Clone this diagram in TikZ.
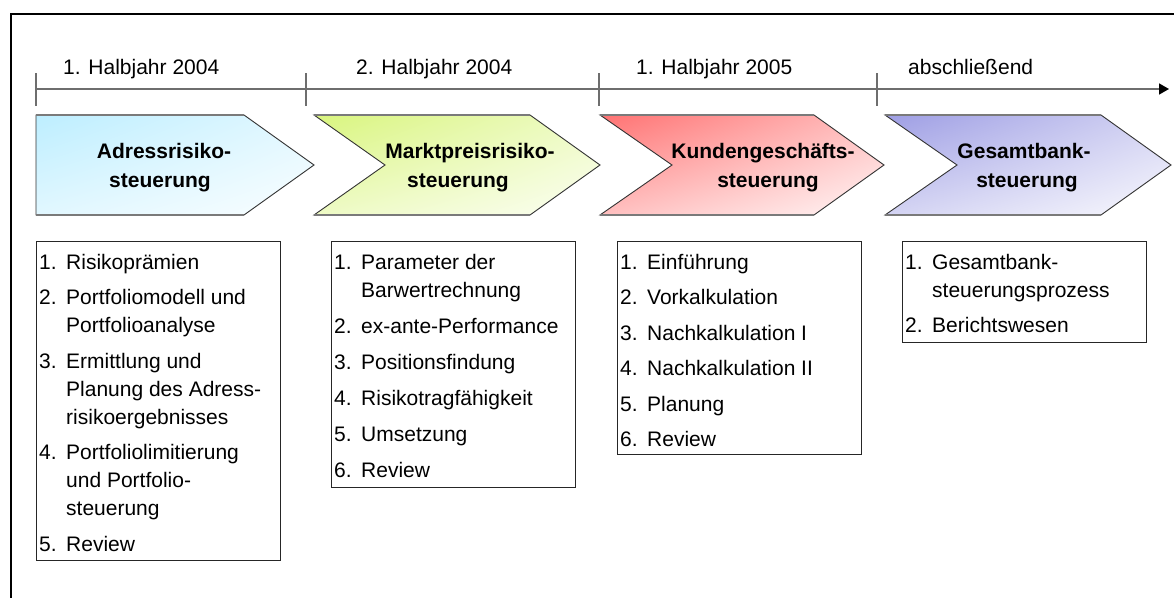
\documentclass[tikz,border=0pt]{standalone}
\usepackage{fontspec}
\setmainfont{Liberation Sans}
\usetikzlibrary{arrows.meta,shadings}
\newcommand\bigf{\fontsize{21}{25}\selectfont}
\definecolor{cyanA}{HTML}{BDEEFF}
\definecolor{greenA}{HTML}{D9F57E}
\definecolor{redA}{HTML}{FF7272}
\definecolor{blueA}{HTML}{9E9EE4}
\definecolor{axisgray}{HTML}{6E6E6E}
\definecolor{edgegray}{HTML}{7A7A7A}
\tikzset{
  frameline/.style={line width=2.2pt, black},
  axisline/.style={line width=1.6pt, axisgray},
  tickline/.style={line width=1.2pt, axisgray},
  period/.style={anchor=base west, inner sep=0pt, font=\bigf},
  chev/.style={draw=black!80, line width=0.9pt},
  chevedge/.style={draw=edgegray, line width=2pt},
  chevtext/.style={anchor=base, inner sep=0pt, font=\bfseries\bigf},
  listbox/.style={draw=black!85, line width=1pt, anchor=north west, minimum width=244pt, inner sep=0pt},
  num/.style={anchor=base west, inner sep=0pt, font=\bigf},
  itm/.style={anchor=base west, inner sep=0pt, font=\bigf},
}
% \li{name}{x}{y}{text}
\newcommand\li[4]{\node[itm] (#1) at (#2,#3) {#4};}
\newcommand\nm[4]{\node[num] (#1) at (#2,#3) {#4};}
\begin{document}
\begin{tikzpicture}[x=1pt,y=-1pt]
\useasboundingbox (0,0) rectangle (1174,597);
% frame (clipped by page)
\draw[frameline] (11,600) -- (11,14) -- (1176,14);

% timeline
\coordinate (t0) at (36,89);
\coordinate (tend) at (1169,89);
\draw[axisline, -{Triangle[length=10pt,width=11pt,color=black]}] (t0) -- (tend);
\foreach \x/\n in {36/a,306/b,599/c,877/d}{
  \coordinate (tk\n top) at (\x,73);
  \coordinate (tk\n bot) at (\x,106);
  \draw[tickline] (tk\n top) -- (tk\n bot);
}
\node[period] (p1) at (63,74) {1. Halbjahr 2004};
\node[period] (p2) at (356,74) {2. Halbjahr 2004};
\node[period] (p3) at (636,74) {1. Halbjahr 2005};
\node[period] (p4) at (908,74) {abschließend};

% chevrons
\shadedraw[chev, upper left=cyanA, upper right=cyanA!45!white, lower left=cyanA!45!white, lower right=cyanA!8!white]
  (36,115) -- (244,115) -- (314,165) -- (244,215) -- (36,215) -- cycle;
\draw[chevedge] (36,115) -- (244,115) (36,215) -- (244,215);
\shadedraw[chev, upper left=greenA, upper right=greenA!45!white, lower left=greenA!45!white, lower right=greenA!10!white]
  (314,115) -- (530,115) -- (600,165) -- (530,215) -- (314,215) -- (385,165) -- cycle;
\draw[chevedge] (314,115) -- (530,115) (314,215) -- (530,215);
\shadedraw[chev, upper left=redA, upper right=redA!45!white, lower left=redA!45!white, lower right=redA!6!white]
  (600,115) -- (814,115) -- (884,165) -- (814,215) -- (600,215) -- (672,165) -- cycle;
\draw[chevedge] (600,115) -- (814,115) (600,215) -- (814,215);
\shadedraw[chev, upper left=blueA, upper right=blueA!45!white, lower left=blueA!45!white, lower right=blueA!6!white]
  (885,115) -- (1101,115) -- (1171,165) -- (1101,215) -- (885,215) -- (957,165) -- cycle;
\draw[chevedge] (885,115) -- (1101,115) (885,215) -- (1101,215);

\node[chevtext] (c1a) at (164,158) {Adressrisiko-};
\node[chevtext] (c1b) at (160,187) {steuerung};
\node[chevtext] (c2a) at (470,158) {Marktpreisrisiko-};
\node[chevtext] (c2b) at (458,187) {steuerung};
\node[chevtext] (c3a) at (763,158) {Kundengeschäfts-};
\node[chevtext] (c3b) at (768,187) {steuerung};
\node[chevtext] (c4a) at (1024,158) {Gesamtbank-};
\node[chevtext] (c4b) at (1027,187) {steuerung};

% boxes
\node[listbox, minimum height=319pt] (box1) at (36,241) {};
\node[listbox, minimum height=246pt] (box2) at (331,241) {};
\node[listbox, minimum height=213pt] (box3) at (617,241) {};
\node[listbox, minimum height=101pt] (box4) at (902,241) {};

% box 1 contents
\nm{b1n1}{39}{269}{1.}   \li{b1t1}{66}{269}{Risikoprämien}
\nm{b1n2}{39}{304.5}{2.} \li{b1t2}{66}{304.5}{Portfoliomodell und}
                         \li{b1t2b}{66}{332.5}{Portfolioanalyse}
\nm{b1n3}{39}{368}{3.}   \li{b1t3}{66}{368}{Ermittlung und}
                         \li{b1t3b}{66}{396}{Planung des Adress-}
                         \li{b1t3c}{66}{424}{risikoergebnisses}
\nm{b1n4}{39}{459.5}{4.} \li{b1t4}{66}{459.5}{Portfoliolimitierung}
                         \li{b1t4b}{66}{487.5}{und Portfolio-}
                         \li{b1t4c}{66}{515.5}{steuerung}
\nm{b1n5}{39}{551}{5.}   \li{b1t5}{66}{551}{Review}

% box 2 contents
\nm{b2n1}{334}{269}{1.}  \li{b2t1}{361}{269}{Parameter der}
                         \li{b2t1b}{361}{297}{Barwertrechnung}
\nm{b2n2}{334}{333}{2.}  \li{b2t2}{361}{333}{ex-ante-Performance}
\nm{b2n3}{334}{369}{3.}  \li{b2t3}{361}{369}{Positionsfindung}
\nm{b2n4}{334}{405}{4.}  \li{b2t4}{361}{405}{Risikotragfähigkeit}
\nm{b2n5}{334}{441}{5.}  \li{b2t5}{361}{441}{Umsetzung}
\nm{b2n6}{334}{477}{6.}  \li{b2t6}{361}{477}{Review}

% box 3 contents
\nm{b3n1}{620}{269}{1.}  \li{b3t1}{647}{269}{Einführung}
\nm{b3n2}{620}{304.5}{2.}\li{b3t2}{647}{304.5}{Vorkalkulation}
\nm{b3n3}{620}{340}{3.}  \li{b3t3}{647}{340}{Nachkalkulation I}
\nm{b3n4}{620}{375.5}{4.}\li{b3t4}{647}{375.5}{Nachkalkulation II}
\nm{b3n5}{620}{411}{5.}  \li{b3t5}{647}{411}{Planung}
\nm{b3n6}{620}{446.5}{6.}\li{b3t6}{647}{446.5}{Review}

% box 4 contents
\nm{b4n1}{905}{269}{1.}  \li{b4t1}{932}{269}{Gesamtbank-}
                         \li{b4t1b}{932}{297}{steuerungsprozess}
\nm{b4n2}{905}{332.5}{2.}\li{b4t2}{932}{332.5}{Berichtswesen}
\end{tikzpicture}
\end{document}
